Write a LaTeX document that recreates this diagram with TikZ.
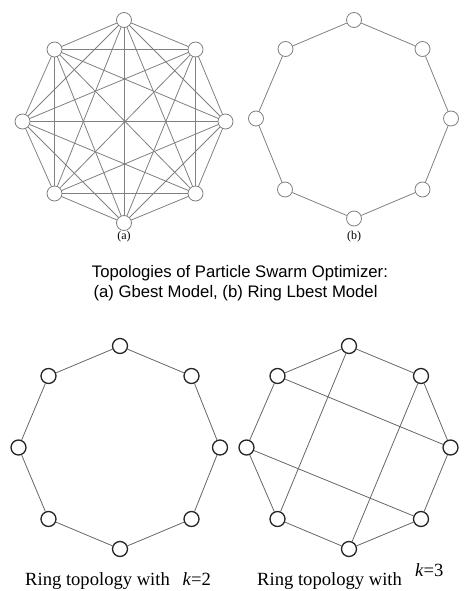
\documentclass[tikz,border=0pt]{standalone}
\usepackage{fontspec}
\setmainfont{Liberation Serif}
\newfontfamily\capfont{Liberation Sans}
\begin{document}
\begin{tikzpicture}[x=1pt,y=-1pt,
  topnode/.style={circle,draw=black!50,fill=white,line width=0.8pt,minimum size=15pt,inner sep=0pt},
  botnode/.style={circle,draw=black!85,fill=white,line width=1.3pt,minimum size=15pt,inner sep=0pt},
  topedge/.style={draw=black!50,line width=0.8pt},
  botedge/.style={draw=black!60,line width=0.8pt},
  sublabel/.style={font=\fontsize{12}{14}\selectfont,inner sep=0pt},
  ringlabel/.style={font=\fontsize{18.6}{20}\selectfont,inner sep=0pt,anchor=base west},
  caplabel/.style={font=\capfont\fontsize{16.7}{19}\selectfont,inner sep=0pt,anchor=base west}]
\useasboundingbox (0,0) rectangle (463,591);
% ---------- panel (a): fully connected ----------
\foreach \n/\x/\y in {1/124/20,2/195.5/49.5,3/225.5/121.5,4/195.5/193.5,5/124/223,6/54.5/193.5,7/22.5/121.5,8/54.5/49.5}
  \coordinate (ca\n) at (\x,\y);
\foreach \i in {1,...,7}{
  \pgfmathtruncatemacro\nxt{\i+1}
  \foreach \j in {\nxt,...,8}
    \draw[topedge] (ca\i) -- (ca\j);
}
\foreach \n in {1,...,8}
  \node[topnode] (a\n) at (ca\n) {};
\node[sublabel] (la) at (124,237) {(a)};
% ---------- panel (b): ring ----------
\foreach \n/\x/\y in {1/354/20,2/422.5/49,3/451/118.5,4/422.5/189.5,5/354/218.5,6/285/189.5,7/256/118.5,8/285.5/49}
  \node[topnode] (b\n) at (\x,\y) {};
\foreach \i/\j in {1/2,2/3,3/4,4/5,5/6,6/7,7/8,8/1}
  \draw[topedge] (b\i) -- (b\j);
\node[sublabel] (lb) at (354,237) {(b)};
% ---------- caption ----------
\node[caplabel] (cap1) at (91.7,277.5) {Topologies of Particle Swarm Optimizer:};
\node[caplabel] (cap2) at (93.3,297.5) {(a) Gbest Model, (b) Ring Lbest Model};
% ---------- k=2 ring ----------
\foreach \n/\x/\y in {1/120/346,2/191.5/376,3/220/447.5,4/191.5/519,5/120/549,6/48.5/519,7/18.5/447.5,8/48.5/376}
  \node[botnode] (c\n) at (\x,\y) {};
\foreach \i/\j in {1/2,2/3,3/4,4/5,5/6,6/7,7/8,8/1}
  \draw[botedge] (c\i) -- (c\j);
\node[ringlabel] (lc) at (25,585.5) {Ring topology with};
\node[ringlabel] (kc) at (182.5,585.5) {\textit{k}=2};
% ---------- k=3 ring ----------
\foreach \n/\x/\y in {1/349/346,2/421/376,3/450.5/447.5,4/421/519,5/349/549,6/277.5/519,7/246.5/447.5,8/277.5/376}
  \node[botnode] (d\n) at (\x,\y) {};
\foreach \i/\j in {1/2,2/3,3/4,4/5,5/6,6/7,7/8,8/1,1/6,2/5,8/3,7/4}
  \draw[botedge] (d\i) -- (d\j);
\node[ringlabel] (ld) at (257,585.5) {Ring topology with};
\node[ringlabel] (kd) at (415,576) {\textit{k}=3};
\end{tikzpicture}
\end{document}
